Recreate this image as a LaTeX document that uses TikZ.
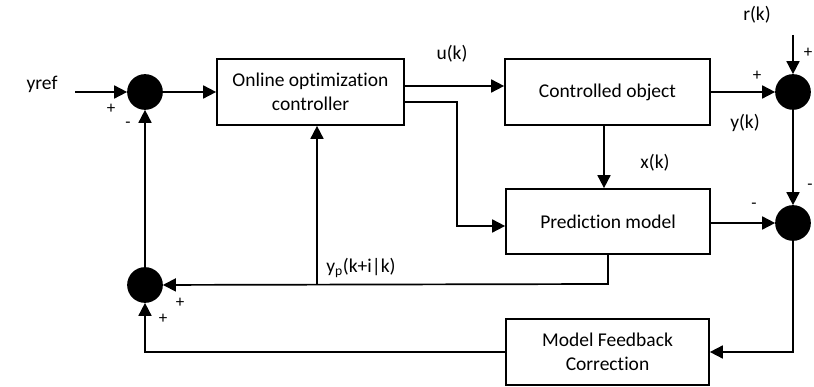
\documentclass[tikz,border=0pt]{standalone}
\usepackage{fontspec}
\setmainfont[Ligatures=NoCommon]{Carlito}
\usetikzlibrary{arrows.meta,calc}
\begin{document}
\begin{tikzpicture}[x=1pt,y=-1pt,
  font=\fontsize{19.5}{24}\selectfont,
  line width=1.7pt,
  arr/.style={-{Triangle[length=13pt,width=13pt]}},
  sumpt/.style={circle,fill=black,draw=black,minimum size=34pt,inner sep=0pt},
  block/.style={draw,rectangle,align=center,inner sep=0pt},
  lbl/.style={inner sep=0pt},
  sgn/.style={inner sep=0pt,font=\fontsize{17}{20}\selectfont}]
\useasboundingbox (0,0) rectangle (814,387);

% summing junctions
\node[sumpt] (s1) at (145,92) {};
\node[sumpt] (s2) at (793,92) {};
\node[sumpt] (s3) at (793,223) {};
\node[sumpt] (s4) at (145,285) {};

% blocks
\node[block,minimum width=187pt,minimum height=66pt] (ctrl) at (310.5,92) {Online optimization\\controller};
\node[block,minimum width=205pt,minimum height=66pt] (plant) at (607.5,92) {Controlled object};
\node[block,minimum width=204pt,minimum height=65pt] (pred) at (608,221.5) {Prediction model};
\node[block,minimum width=203pt,minimum height=66pt] (corr) at (607.5,352) {Model Feedback\\Correction};

% helper points
\coordinate (yin) at (75,92);
\coordinate (rin) at (793,35);
\coordinate (ua) at (404,86);
\coordinate (ub) at (404,102);
\coordinate (bend1) at (457,102);
\coordinate (xk) at (604,125);
\coordinate (ypa) at (608,254);
\coordinate (ypb) at (608,284);
\coordinate (tap) at (317,284);
\coordinate (fb) at (793,352);
\coordinate (fl) at (145,352);

% signal flow
\draw[arr] (yin) -- (s1);
\draw[arr] (s1) -- (ctrl.west |- s1);
\draw[arr] (ua) -- (plant.west |- ua);
\draw[arr] (ub) -- (bend1) |- (pred.west |- 0,226);
\draw[arr] (plant.east |- s2) -- (s2);
\draw[arr] (rin) -- (s2);
\draw[arr] (s2) -- (s3);
\draw[arr] (xk) -- (xk |- pred.north);
\draw[arr] (pred.east |- s3) -- (s3);
\draw[arr] (ypa) -- (ypb) -- (s4);
\draw[arr] (tap) -- (tap |- ctrl.south);
\draw[arr] (s3) -- (fb) -- (corr.east |- fb);
\draw[arr] (corr.west |- fl) -- (fl) -- (s4);
\draw[arr] (s4) -- (s1);

% labels
\node[lbl] at (42,84) {yref};
\node[sgn] at (111,109) {+};
\node[sgn] at (128,125) {-};
\node[lbl] at (452,54) {u(k)};
\node[lbl] at (757,15) {r(k)};
\node[sgn] at (808,53) {+};
\node[sgn] at (757,76) {+};
\node[lbl] at (745,123) {y(k)};
\node[lbl] at (655,163) {x(k)};
\node[sgn] at (810,187) {-};
\node[sgn] at (754,206) {-};
\node[lbl] at (361,268) {y\textsubscript{p}(k+i|k)};
\node[sgn] at (180,303) {+};
\node[sgn] at (163,319) {+};
\end{tikzpicture}
\end{document}
